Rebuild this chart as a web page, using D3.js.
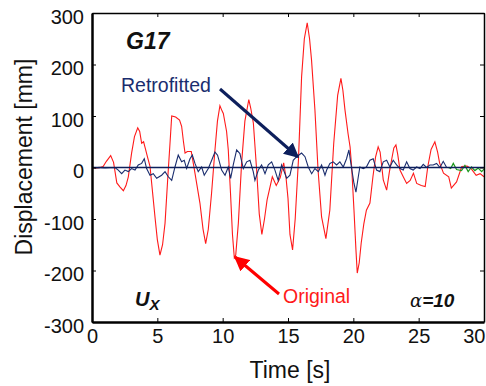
<!DOCTYPE html>
<html><head><meta charset="utf-8">
<script src="https://cdn.jsdelivr.net/npm/d3@7/dist/d3.min.js"></script>
<style>body{margin:0;background:#fff}svg{display:block}text{font-family:Arial,"Liberation Sans",sans-serif}</style>
</head><body><div id="chart"></div>
<script>
const xTicks = [0,5,10,15,20,25,30];
const yTicks = [-300,-200,-100,0,100,200,300];

const originalT = [0,0.6,0.85,1.1,1.43,1.65,1.9,2.15,2.4,2.6,2.78,3.03,3.25,3.5,3.65,3.8,3.95,4.05,4.25,4.44,4.82,5.0,5.2,5.4,5.59,5.8,5.97,6.1,6.4,6.7,6.86,7.0,7.12,7.3,7.6,7.88,8.26,8.5,8.7,8.9,9.15,9.41,9.6,9.79,9.95,10.05,10.3,10.43,10.6,10.75,10.89,11.0,11.2,11.45,11.7,12.0,12.15,12.35,12.6,12.8,13.0,13.2,13.4,13.8,14.1,14.4,14.67,14.85,15.0,15.15,15.35,15.55,15.8,16.04,16.25,16.47,16.65,16.8,17.06,17.3,17.57,17.9,18.2,18.5,18.8,19.05,19.2,19.36,19.6,19.75,19.87,20.05,20.2,20.3,20.45,20.6,20.8,21.0,21.27,21.5,21.7,21.9,22.05,22.29,22.55,22.75,22.93,23.1,23.26,23.4,23.57,23.82,24.08,24.35,24.6,24.85,25.2,25.5,25.7,25.95,26.24,26.45,26.6,26.9,27.3,27.5,27.9,28.3,28.7,29.0,29.4,29.7,30];
const originalV = [0,0,2,12,23,10,-30,-38,-45,-35,-18,28,60,77,70,47,50,40,20,2,-96,-140,-170,-150,-108,-20,47,100,98,92,80,50,28,31,31,-11,-69,-120,-148,-120,-50,34,90,120,110,105,70,34,-50,-130,-175,-170,-108,9,90,132,115,86,-5,-90,-130,-100,-63,-18,-35,-20,9,-20,-60,-130,-160,-100,15,176,250,281,250,209,112,-5,-96,-138,-83,47,140,173,150,112,65,40,2,-83,-160,-205,-185,-147,-110,-83,-69,-18,20,40,30,-24,-44,-10,15,38,44,25,-5,-18,-31,-25,-11,-31,-35,-37,2,35,50,30,9,-11,-18,-40,-28,2,3,-2,-15,-12,-18];

const retroT = [0,0.23,1.0,1.76,2.01,2.27,2.52,2.78,3.03,3.29,3.54,3.80,4.0,4.18,4.44,4.69,4.95,5.33,5.59,5.84,6.1,6.35,6.6,6.86,7.06,7.24,7.5,7.68,7.88,8.13,8.39,8.59,8.9,9.16,9.41,9.61,9.92,10.18,10.43,10.61,10.81,11.07,11.32,11.58,11.84,12.09,12.34,12.47,12.73,12.98,13.24,13.49,13.75,14.0,14.25,14.51,14.9,15.15,15.4,15.66,16.04,16.3,16.55,16.81,17.06,17.32,17.57,17.83,17.96,18.21,18.46,18.72,18.97,19.23,19.48,19.66,19.87,20.05,20.2,20.38,20.5,20.76,21.0,21.27,21.52,21.78,22.03,22.29,22.55,22.8,23.05,23.31,23.57,23.82,24.08,24.33,24.58,24.84,25.1,25.35,25.61,25.86,26.11,26.37,26.63,26.88,27.14];
const retroV = [0,0,-1,0,-5,-12,-5,-8,-2,-5,5,8,17,-2,-15,-12,-21,-15,-8,-18,-25,1,24,11,14,-2,17,24,8,-8,1,-15,-2,14,30,24,-5,-15,1,-21,5,34,27,-2,11,14,-8,-25,-5,5,-12,5,11,-5,-25,5,-21,-15,14,21,28,21,1,-12,-2,-8,5,-15,-5,8,11,5,11,1,17,34,-2,-31,-48,-18,1,-2,1,14,17,-5,-8,11,14,1,14,5,-2,-5,11,-2,-5,1,-2,6,0,5,5,8,0,12,0];

const tailT = [27.14,27.27,27.45,27.65,27.9,28.28,28.54,28.79,29.05,29.3,29.56,29.82,30];
const tailV = [0,0,-2,8,-4,-6,4,-8,1,-6,-1,-8,-3];

const startT = [0,0.3,0.6];
const startV = [0,-1,0];

const W = 486, H = 386;
const m = {left:92, right:1, top:13, bottom:64};
const svg = d3.select('#chart').append('svg').attr('width',W).attr('height',H);
const x = d3.scaleLinear().domain([0,30]).range([m.left, W - m.right - 1]);
const y = d3.scaleLinear().domain([-300,300]).range([H - m.bottom, m.top]);

const defs = svg.append('defs');
function marker(id, color){
  defs.append('marker').attr('id',id).attr('viewBox','0 0 10 10').attr('refX',9).attr('refY',5)
    .attr('markerWidth',5).attr('markerHeight',5).attr('orient','auto-start-reverse').attr('markerUnits','strokeWidth')
    .append('path').attr('d','M0,0 L10,5 L0,10 z').attr('fill',color);
}
marker('arrNavy','#0d1f5c');
marker('arrRed','#ff0000');

const line = d3.line().x(d=>x(d[0])).y(d=>y(d[1]));
const zip = (a,b)=>a.map((t,i)=>[t,b[i]]);

const g = svg.append('g');
g.append('path').datum(zip(originalT,originalV)).attr('d',line).attr('fill','none').attr('stroke','#ff1a1a').attr('stroke-width',1.1);
g.append('path').datum(zip(tailT,tailV)).attr('d',line).attr('fill','none').attr('stroke','#1e9a1e').attr('stroke-width',1.2);
g.append('path').datum(zip(retroT,retroV)).attr('d',line).attr('fill','none').attr('stroke','#1a2d6e').attr('stroke-width',1.1);
g.append('path').datum(zip(startT,startV)).attr('d',line).attr('fill','none').attr('stroke','#8b1a2a').attr('stroke-width',1.4);
g.append('line').attr('x1',x(0)).attr('x2',x(30)).attr('y1',y(0)).attr('y2',y(0)).attr('stroke','#0d1f5c').attr('stroke-width',1.4);

// axes
const fmt = d => String(d);
const axB = d3.axisBottom(x).tickValues(xTicks).tickFormat(fmt).tickSizeInner(-4).tickSizeOuter(0).tickPadding(7);
const axL = d3.axisLeft(y).tickValues(yTicks).tickFormat(fmt).tickSizeInner(-4).tickSizeOuter(0).tickPadding(8);
const axT = d3.axisTop(x).tickValues(xTicks).tickSizeInner(-4).tickSizeOuter(0).tickFormat('');
const axR = d3.axisRight(y).tickValues(yTicks).tickSizeInner(-4).tickSizeOuter(0).tickFormat('');
const gb = svg.append('g').attr('transform',`translate(0,${y(-300)})`).call(axB);
const gl = svg.append('g').attr('transform',`translate(${x(0)},0)`).call(axL);
svg.append('g').attr('transform',`translate(0,${y(300)})`).call(axT);
svg.append('g').attr('transform',`translate(${x(30)},0)`).call(axR);
svg.selectAll('.domain').attr('stroke','#000').attr('stroke-width',1.5);
svg.selectAll('.tick line').attr('stroke','#000').attr('stroke-width',1);
gb.selectAll('text').attr('font-size',20).attr('fill','#111');
gb.selectAll('.tick').filter(d => d === 30).select('text').attr('text-anchor','end').attr('dx',1);
gl.selectAll('text').attr('font-size',20).attr('fill','#111').attr('dy','0.5em');
gl.select('.domain').attr('stroke-width',2.5);
gb.select('.domain').attr('stroke-width',2.5);

svg.append('text').attr('x',290).attr('y',378).attr('text-anchor','middle').attr('font-size',23).attr('fill','#111').text('Time [s]');
svg.append('text').attr('transform','translate(32,157) rotate(-90)').attr('text-anchor','middle').attr('font-size',23).attr('fill','#111').text('Displacement [mm]');

// annotations
svg.append('text').attr('x',126).attr('y',49).attr('font-size',23).attr('font-weight','bold').attr('font-style','italic').attr('fill','#111').text('G17');
svg.append('text').attr('x',121).attr('y',92).attr('font-size',19.5).attr('fill','#1a2d6e').text('Retrofitted');
svg.append('line').attr('x1',220).attr('y1',89).attr('x2',298).attr('y2',157).attr('stroke','#0d1f5c').attr('stroke-width',3).attr('marker-end','url(#arrNavy)');
svg.append('text').attr('x',283).attr('y',303).attr('font-size',19.5).attr('fill','#ff1a1a').text('Original');
svg.append('line').attr('x1',279).attr('y1',294).attr('x2',235).attr('y2',257).attr('stroke','#ff0000').attr('stroke-width',3).attr('marker-end','url(#arrRed)');
const ux = svg.append('text').attr('x',135).attr('y',306).attr('font-weight','bold').attr('font-style','italic').attr('fill','#111');
ux.append('tspan').attr('font-size',20).text('U');
ux.append('tspan').attr('font-size',15).attr('dy',4).text('X');
const al = svg.append('text').attr('x',410).attr('y',307).attr('fill','#111').attr('font-style','italic');
al.append('tspan').attr('font-size',18).attr('font-family','"DejaVu Serif",serif').text('α');
al.append('tspan').attr('font-size',19).attr('font-weight','bold').text('=10');
</script></body></html>
